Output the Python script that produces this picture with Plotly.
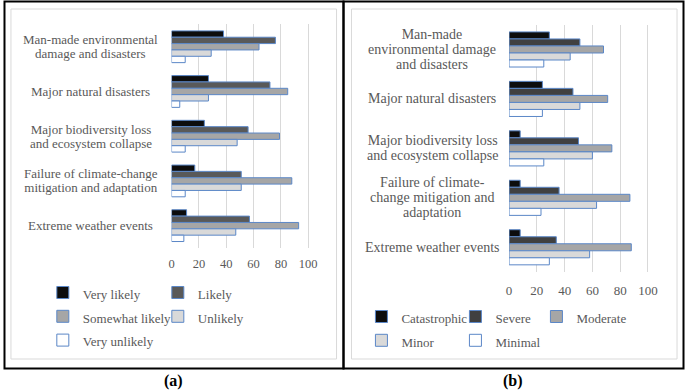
import plotly.graph_objects as go

W, H = 685, 392

categories = [
    "Man-made environmental damage and disasters",
    "Major natural disasters",
    "Major biodiversity loss and ecosystem collapse",
    "Failure of climate-change mitigation and adaptation",
    "Extreme weather events",
]
labels_a = [
    "Man-made environmental<br>damage and disasters",
    "Major natural disasters",
    "Major biodiversity loss<br>and ecosystem collapse",
    "Failure of climate-change<br>mitigation and adaptation",
    "Extreme weather events",
]
labels_b = [
    "Man-made<br>environmental damage<br>and disasters",
    "Major natural disasters",
    "Major biodiversity loss<br>and ecosystem collapse",
    "Failure of climate-<br>change mitigation and<br>adaptation",
    "Extreme weather events",
]

# Panel (a): likelihood
series_a = ["Very likely", "Likely", "Somewhat likely", "Unlikely", "Very unlikely"]
very_likely = [38, 27, 24, 17, 11]
likely = [76, 72, 56, 51, 57]
somewhat_likely = [64, 85, 79, 88, 93]
unlikely = [29, 27, 48, 51, 47]
very_unlikely = [10, 6, 10, 10, 9]
values_a = [very_likely, likely, somewhat_likely, unlikely, very_unlikely]

# Panel (b): impact
series_b = ["Catastrophic", "Severe", "Moderate", "Minor", "Minimal"]
catastrophic = [29, 24, 8, 8, 8]
severe = [51, 46, 50, 36, 34]
moderate = [68, 71, 74, 87, 88]
minor = [44, 51, 60, 63, 58]
minimal = [25, 24, 25, 23, 29]
values_b = [catastrophic, severe, moderate, minor, minimal]

ticks = [0, 20, 40, 60, 80, 100, 120]
tick_text = ["0", "20", "40", "60", "80", "100", ""]

colors_a = ["#0d0d0d", "#595959", "#a6a6a6", "#d9d9d9", "#ffffff"]
colors_b = ["#0d0d0d", "#404040", "#a6a6a6", "#d9d9d9", "#ffffff"]
groups_a = ["c1", "c2", "c1", "c2", "c1"]
groups_b = ["c1", "c2", "c3", "c1", "c2"]
widths_a = [70, 70, 70, 70, 70]
widths_b = [49, 36, 70, 49, 36]
outline = "#5b87c7"
txt = "#595959"
FONT = "Liberation Serif"


def styled(text, size):
    return "<br>".join(
        f'<span style="font-family:Liberation Serif;font-size:{size}px">{line}</span>'
        for line in text.split("<br>")
    )


fig = go.Figure()
for name, vals, col, grp, lw in zip(series_a, values_a, colors_a, groups_a, widths_a):
    fig.add_trace(go.Bar(
        y=categories, x=vals, name=styled(name, 13),
        orientation="h", marker=dict(color=col, line=dict(color=outline, width=1)),
        xaxis="x", yaxis="y", legend="legend", legendgroup="a" + grp, legendwidth=lw,
    ))
for name, vals, col, grp, lw in zip(series_b, values_b, colors_b, groups_b, widths_b):
    fig.add_trace(go.Bar(
        y=categories, x=vals, name=styled(name, 13),
        orientation="h", marker=dict(color=col, line=dict(color=outline, width=1)),
        xaxis="x2", yaxis="y2", legend="legend2", legendgroup="b" + grp, legendwidth=lw,
    ))

axis_common = dict(range=[0, 120], tickvals=ticks, ticktext=tick_text,
                   showgrid=True, gridcolor="#d9d9d9", gridwidth=1,
                   zeroline=False, showline=False, ticks="")

annotations = []
for cat, lab in zip(categories, labels_a):
    annotations.append(dict(x=88 / W, xref="paper", y=cat, yref="y", text=styled(lab, 13),
                            showarrow=False, xanchor="center", yanchor="middle", align="center",
                            font=dict(family=FONT, size=10.8, color=txt)))
for cat, lab in zip(categories, labels_b):
    annotations.append(dict(x=431 / W, xref="paper", y=cat, yref="y2", text=styled(lab, 14),
                            showarrow=False, xanchor="center", yanchor="middle", align="center",
                            font=dict(family=FONT, size=11.5, color=txt)))
annotations.append(dict(x=171 / W, y=1 - 381 / H, xref="paper", yref="paper", text="<b>(a)</b>",
                        showarrow=False, xanchor="center", yanchor="middle",
                        font=dict(family=FONT, size=16, color="black")))
annotations.append(dict(x=512 / W, y=1 - 381 / H, xref="paper", yref="paper", text="<b>(b)</b>",
                        showarrow=False, xanchor="center", yanchor="middle",
                        font=dict(family=FONT, size=16, color="black")))


def box(x0, y0, x1, y1, color, width):
    return dict(type="rect", xref="paper", yref="paper",
                x0=x0 / W, x1=x1 / W, y0=1 - y1 / H, y1=1 - y0 / H,
                line=dict(color=color, width=width), fillcolor="rgba(0,0,0,0)", layer="below")


shapes = [
    box(8, 9, 335, 359, "#d9d9d9", 1),
    box(350, 9, 677, 359, "#d9d9d9", 1),
    box(1.5, 1.5, 342, 368.5, "black", 2),
    box(342, 1.5, 683.5, 368.5, "black", 2),
]

fig.update_layout(
    width=W, height=H, margin=dict(l=0, r=0, t=0, b=0),
    paper_bgcolor="white", plot_bgcolor="white",
    barmode="group", bargap=0.29, bargroupgap=0,
    font=dict(family=FONT, color=txt),
    xaxis=dict(domain=[169.3 / W, 334 / W], anchor="y", ticklabelstandoff=6,
               tickfont=dict(family=FONT, size=12.5, color=txt), **axis_common),
    yaxis=dict(domain=[1 - 248 / H, 1 - 24.4 / H], anchor="x", autorange="reversed",
               showticklabels=False, showgrid=False, zeroline=False, ticks=""),
    xaxis2=dict(domain=[508.3 / W, 675.7 / W], anchor="y2", ticklabelstandoff=9,
                tickfont=dict(family=FONT, size=13, color=txt), **axis_common),
    yaxis2=dict(domain=[1 - 272 / H, 1 - 24.75 / H], anchor="x2", autorange="reversed",
                showticklabels=False, showgrid=False, zeroline=False, ticks=""),
    legend=dict(orientation="h", traceorder="grouped", x=40 / W, y=1 - 275.6 / H,
                xanchor="left", yanchor="top", entrywidthmode="pixels",
                bgcolor="rgba(0,0,0,0)", font=dict(family=FONT, size=16, color=txt),
                tracegroupgap=0),
    legend2=dict(orientation="h", traceorder="grouped", x=360 / W, y=1 - 299.6 / H,
                 xanchor="left", yanchor="top", entrywidthmode="pixels",
                 bgcolor="rgba(0,0,0,0)", font=dict(family=FONT, size=16, color=txt),
                 tracegroupgap=0),
    annotations=annotations,
    shapes=shapes,
)

fig.write_html("out.html", config={"displayModeBar": False},
               post_script="document.body.style.margin='0';document.body.style.padding='0';")
